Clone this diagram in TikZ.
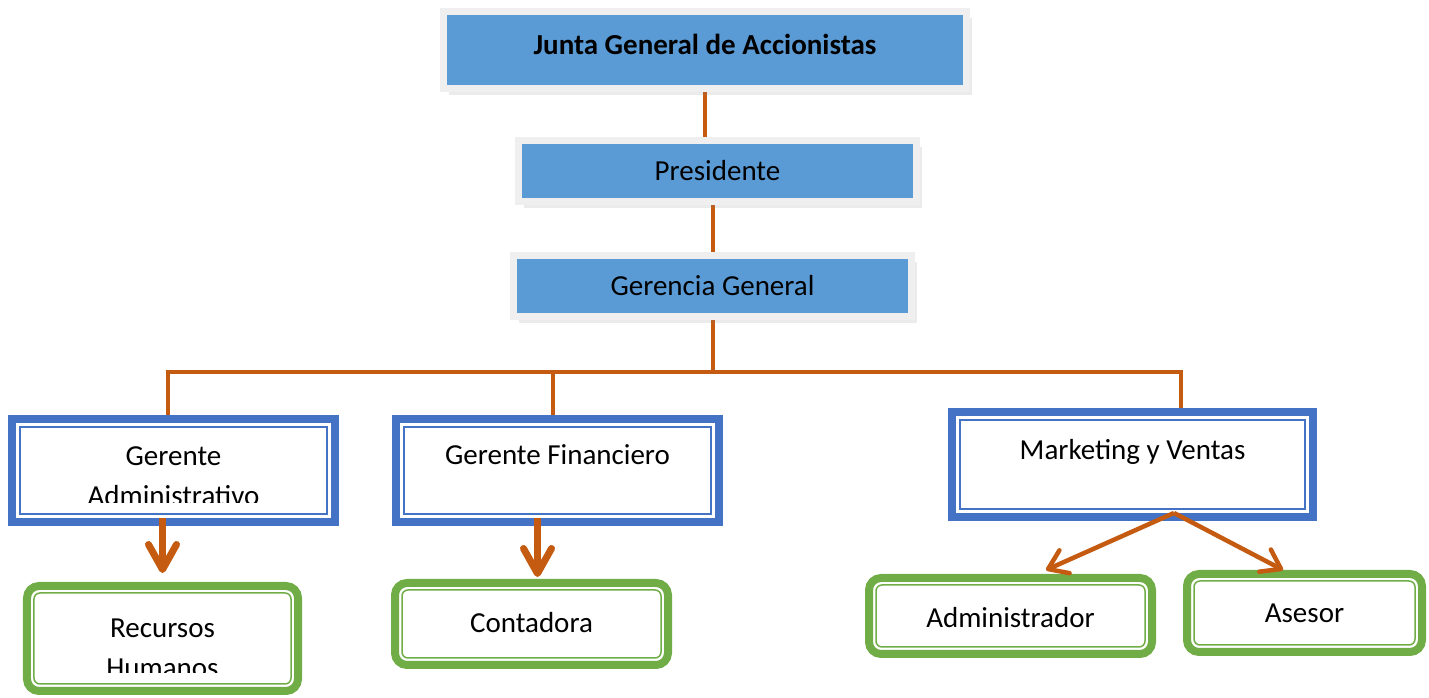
\documentclass[tikz,border=0pt]{standalone}
\usepackage{fontspec}
\setmainfont{Carlito}
\usetikzlibrary{calc,arrows.meta,shadows,backgrounds}
\definecolor{boxfill}{HTML}{5B9BD5}
\definecolor{boxframe}{HTML}{EFEFEF}
\definecolor{mgrblue}{HTML}{4472C4}
\definecolor{subgreen}{HTML}{70AD47}
\definecolor{linkorange}{HTML}{C55A11}
\newcommand\boxfont{\fontsize{16.5pt}{23.3pt}\selectfont}

\begin{document}
\begin{tikzpicture}[
    x=0.2mm, y=0.2mm,
    font=\boxfont,
 topbox/.style = {
        draw=boxframe, line width=1.4mm, fill=boxfill,
        inner sep=0pt, text height=3.8mm, text depth=0pt,
        drop shadow={shadow xshift=1.0mm, shadow yshift=-1.4mm,
                     opacity=0.16}},
 mgrbox/.style = {
        draw=mgrblue, line width=1.6mm, fill=white, inner sep=0pt,
        path picture={\draw[mgrblue, line width=0.3mm]
            ([shift={(1.6mm,1.6mm)}]path picture bounding box.south west)
            rectangle
            ([shift={(-1.6mm,-1.6mm)}]path picture bounding box.north east);}},
 subbox/.style = {
        draw=subgreen, line width=1.6mm, fill=white, inner sep=0pt,
        rounded corners=2.4mm,
        path picture={\draw[subgreen, line width=0.3mm, rounded corners=1.2mm]
            ([shift={(1.4mm,1.4mm)}]path picture bounding box.south west)
            rectangle
            ([shift={(-1.4mm,-1.4mm)}]path picture bounding box.north east);}},
 link/.style = {linkorange, line width=0.8mm},
 bigarrow/.style = {linkorange, line width=1.4mm,
        -{Straight Barb[length=5mm, width=5.6mm, round]}},
 arrow/.style = {linkorange, line width=0.9mm,
        -{Straight Barb[length=3.6mm, width=5mm, round]}},
 cutoff/.style = {fill=white}
                    ]
\useasboundingbox (0,0) rectangle (1429,698);
% the chain at the top
\node (junta) [topbox, minimum width=104.6mm, minimum height=15.4mm,
               text depth=2mm, font=\boxfont\bfseries] at (705,648)
               {Junta General de Accionistas};
\node (pres)  [topbox, minimum width=79.6mm, minimum height=12.2mm]
               at (717.5,527) {Presidente};
\node (gergen) [topbox, minimum width=79.6mm, minimum height=12.2mm]
               at (712.5,412) {Gerencia General};
% the managers
\node (geradm) [mgrbox, minimum width=64.6mm, minimum height=20.6mm,
                text height=17.4mm, text depth=3.2mm] at (173.5,227.5)
               {\parbox[b]{60mm}{\centering Gerente\\Administrativo}};
\node (gerfin) [mgrbox, minimum width=64.6mm, minimum height=20.6mm,
                text height=9.2mm, text depth=11.4mm] at (557.5,227.5)
               {Gerente Financiero};
\node (mkt)    [mgrbox, minimum width=72.2mm, minimum height=21mm,
                text height=9.6mm, text depth=11.4mm] at (1132.5,233.5)
               {Marketing y Ventas};
% the boxes at the bottom
\node (rrhh)   [subbox, minimum width=54.2mm, minimum height=21mm,
                text height=18.4mm, text depth=2.6mm] at (162.5,59.5)
               {\parbox[b]{45mm}{\centering Recursos\\Humanos}};
\node (cont)   [subbox, minimum width=54.6mm, minimum height=16.4mm,
                text height=10mm, text depth=6.4mm] at (531.5,74)
               {Contadora};
\node (admin)  [subbox, minimum width=56.6mm, minimum height=15.2mm,
                text height=10mm, text depth=5.2mm] at (1010.5,82)
               {Administrador};
\node (asesor) [subbox, minimum width=47mm, minimum height=15.6mm,
                text height=9.8mm, text depth=5.8mm] at (1304.5,85)
               {Asesor};
% text cut off at the bottom of two boxes
\fill[cutoff] ($(geradm.south west)+(14,14)$) rectangle ($(geradm.south east)+(-14,23)$);
\fill[cutoff] ($(rrhh.south west)+(14,13)$) rectangle ($(rrhh.south east)+(-14,22)$);
% the tree lines
\coordinate (busL) at (168,326);
\coordinate (busM) at (553,326);
\coordinate (busR) at (1181,326);
    \begin{scope}[on background layer]
\draw[link] (junta.south) -- (junta.south |- pres.north);
\draw[link] (gergen.north) -- (gergen.north |- pres.south);
\draw[link] (gergen.south) -- (gergen.south |- busM);
\draw[link] (busL |- geradm.north) -- (busL) -- (busR) -- (busR |- mkt.north);
\draw[link] (busM) -- (busM |- gerfin.north);
    \end{scope}
% the arrows
\coordinate (mktout) at ($(mkt.south)+(41.5,8)$);
\draw[bigarrow, shorten <=-1.6mm, shorten >=1.8mm]
      (geradm.south -| rrhh.north) -- (rrhh.north);
\draw[bigarrow, shorten <=-1.6mm, shorten >=0.4mm]
      ($(gerfin.south -| cont.north)+(6,0)$) -- ($(cont.north)+(6,0)$);
\draw[arrow] (mktout) -- ($(admin.north)+(35.5,4)$);
\draw[arrow] (mktout) -- ($(asesor.north)+(-21.5,0)$);
\end{tikzpicture}
\end{document}
